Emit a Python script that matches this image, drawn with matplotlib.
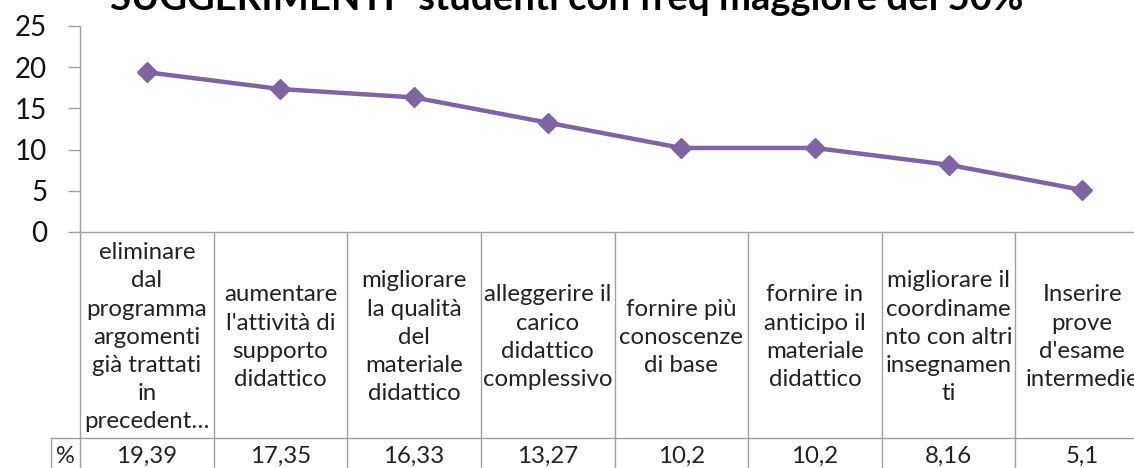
import matplotlib
matplotlib.use("Agg")
import matplotlib.pyplot as plt


TITLE = "SUGGERIMENTI- studenti con freq maggiore del 50%"
CATEGORIES = [
    "eliminare\ndal\nprogramma\nargomenti\ngià trattati\nin\nprecedent…",
    "aumentare\nl'attività di\nsupporto\ndidattico",
    "migliorare\nla qualità\ndel\nmateriale\ndidattico",
    "alleggerire il\ncarico\ndidattico\ncomplessivo",
    "fornire più\nconoscenze\ndi base",
    "fornire in\nanticipo il\nmateriale\ndidattico",
    "migliorare il\ncoordiname\nnto con altri\ninsegnamen\nti",
    "Inserire\nprove\nd'esame\nintermedie",
]
VALUES = [19.39, 17.35, 16.33, 13.27, 10.2, 10.2, 8.16, 5.1]
VALUE_LABELS = ["19,39", "17,35", "16,33", "13,27", "10,2", "10,2", "8,16", "5,1"]
SERIES_NAME = "%"
Y_TICKS = [0, 5, 10, 15, 20, 25]

W, H = 1134, 468
PURPLE = "#8064A2"
GRID = "#a0a0a0"
TEXT = "#222222"


def main():
    plt.rcParams["font.family"] = ["Lato", "DejaVu Sans"]
    fig = plt.figure(figsize=(W / 100, H / 100), dpi=100)
    ax = fig.add_axes([80 / W, (H - 232) / H, 1069 / W, 206 / H])

    n = len(VALUES)
    xs = [i + 0.5 for i in range(n)]
    ax.plot(xs, VALUES, color=PURPLE, lw=3.2, marker="D", ms=10, zorder=3)

    ax.set_xlim(0, n)
    ax.set_ylim(0, 25)
    ax.set_yticks(Y_TICKS)
    ax.set_xticks([])
    ax.tick_params(axis="y", length=8.5, width=1, color=GRID, labelsize=20,
                   pad=15, labelcolor="#111111")
    for side in ("top", "right", "bottom"):
        ax.spines[side].set_visible(False)
    ax.spines["left"].set_color(GRID)
    ax.spines["left"].set_linewidth(1)

    # data table under the plot (x in data units, y in axes fraction)
    tr = ax.get_xaxis_transform()
    row1, row2 = -1.0, -1.175
    hdr = -29 / 133.6
    kw = dict(color=GRID, lw=1, transform=tr, clip_on=False)
    ax.plot([0, n], [0, 0], **kw)
    ax.plot([hdr, n], [row1, row1], **kw)
    ax.plot([hdr, n], [row2, row2], **kw)
    ax.plot([hdr, hdr], [row1, row2], **kw)
    for b in range(n + 1):
        ax.plot([b, b], [0, row2], **kw)

    for x, cat, lab in zip(xs, CATEGORIES, VALUE_LABELS):
        ax.text(x, row1 / 2 - 0.01, cat, transform=tr, ha="center",
                va="center", multialignment="center", fontsize=17.3,
                linespacing=1.415, color=TEXT, clip_on=False)
        ax.text(x, (row1 + row2) / 2, lab, transform=tr, ha="center",
                va="center", fontsize=17.3, color=TEXT, clip_on=False)
    ax.text(hdr / 2, (row1 + row2) / 2, SERIES_NAME, transform=tr,
            ha="center", va="center", fontsize=17, color=TEXT)

    fig.text(0.5, 1 - 10 / H, TITLE, ha="center", va="baseline",
             fontsize=27.5, fontweight="bold")

    fig.savefig("out.png", dpi=100)
    plt.close(fig)


if __name__ == "__main__":
    main()
